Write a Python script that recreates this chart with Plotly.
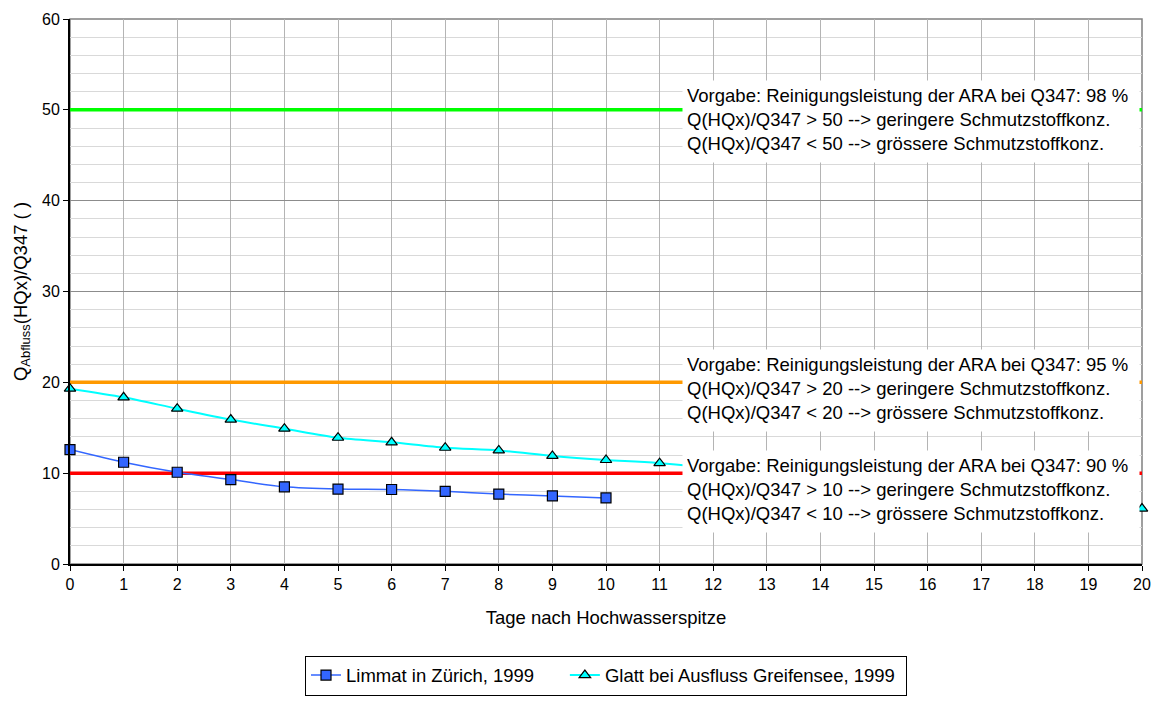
import plotly.graph_objects as go

# ---- data ----
limmat_days = [0, 1, 2, 3, 4, 5, 6, 7, 8, 9, 10]
limmat_vals = [12.6, 11.2, 10.1, 9.3, 8.5, 8.25, 8.2, 8.0, 7.7, 7.5, 7.27]

glatt_days = [0, 1, 2, 3, 4, 5, 6, 7, 8, 9, 10, 11, 20]
glatt_vals = [19.3, 18.35, 17.1, 15.9, 14.9, 13.9, 13.4, 12.8, 12.5, 11.9, 11.45, 11.1, 6.1]

series_names = ["Limmat in Zürich, 1999", "Glatt bei Ausfluss Greifensee, 1999"]

threshold_levels = [50, 20, 10]
threshold_pct = [98, 95, 90]
threshold_colors = ["#00FF00", "#FF9900", "#FF0000"]
threshold_x = [0, 20]
box_tops = [53.3, 23.7, 12.6]

x_ticks = list(range(0, 21))
y_ticks = [0, 10, 20, 30, 40, 50, 60]

FONT = "Liberation Sans, Arial, sans-serif"
NBSP = "\u00a0"

fig = go.Figure()

for lvl, col in zip(threshold_levels, threshold_colors):
    fig.add_trace(go.Scatter(
        x=threshold_x, y=[lvl, lvl], mode="lines",
        line=dict(color=col, width=3.5), showlegend=False, hoverinfo="skip"))

fig.add_trace(go.Scatter(
    x=limmat_days, y=limmat_vals, mode="lines+markers",
    name=series_names[0] + NBSP * 5,
    line=dict(color="#3366FF", width=1.5, shape="spline", smoothing=0.8),
    marker=dict(symbol="square", size=10, color="#3366FF",
                line=dict(color="black", width=1.2)),
    cliponaxis=False))

fig.add_trace(go.Scatter(
    x=glatt_days, y=glatt_vals, mode="lines+markers",
    name=series_names[1] + NBSP,
    line=dict(color="#00FFFF", width=2, shape="spline", smoothing=0.8),
    marker=dict(symbol="triangle-up", size=10, color="#00FFFF",
                line=dict(color="black", width=1.2)),
    cliponaxis=False))

for lvl, pct, top in zip(threshold_levels, threshold_pct, box_tops):
    txt = (f"Vorgabe: Reinigungsleistung der ARA bei Q347: {pct} %<br>"
           f"Q(HQx)/Q347 &gt; {lvl} --&gt; geringere Schmutzstoffkonz.<br>"
           f"Q(HQx)/Q347 &lt; {lvl} --&gt; grössere Schmutzstoffkonz.")
    fig.add_annotation(
        x=11.42, y=top, xref="x", yref="y", xanchor="left", yanchor="top",
        text=txt, showarrow=False, align="left", valign="top",
        width=448, height=73, borderpad=4, bgcolor="white",
        font=dict(family=FONT, size=18.5, color="black"))

# plot border (grey) between grid and traces
fig.add_shape(type="rect", xref="paper", yref="paper", x0=0, y0=0, x1=1, y1=1,
              line=dict(color="#808080", width=1.5), layer="between")

fig.update_layout(
    width=1152, height=714,
    margin=dict(l=70, r=10, t=19, b=150),
    paper_bgcolor="white", plot_bgcolor="white",
    font=dict(family=FONT, size=16, color="black"),
    showlegend=True,
    legend=dict(orientation="h", x=0.5, xanchor="center", y=-0.168, yanchor="top",
                bordercolor="black", borderwidth=1, bgcolor="white",
                font=dict(family=FONT, size=18.5, color="black"),
                itemwidth=30),
)

fig.update_xaxes(
    range=[0, 20], tickmode="array", tickvals=x_ticks,
    ticktext=[str(t) for t in x_ticks], automargin=False,
    showgrid=True, gridcolor="#b4b4b4", gridwidth=1,
    showline=True, linecolor="black", linewidth=2,
    ticks="outside", ticklen=5, tickcolor="black",
    tickfont=dict(size=16), zeroline=False,
    title=dict(text="Tage nach Hochwasserspitze", font=dict(size=18.5), standoff=19))

fig.update_yaxes(
    range=[0, 60], tickmode="array", tickvals=y_ticks, automargin=False,
    showgrid=True, gridcolor="#8c8c8c", gridwidth=1,
    minor=dict(dtick=2, showgrid=True, gridcolor="#d9d9d9", gridwidth=1),
    showline=True, linecolor="black", linewidth=2,
    ticks="outside", ticklen=5, tickcolor="black",
    tickfont=dict(size=16), zeroline=False,
    title=dict(text="Q<sub>Abfluss</sub>(HQx)/Q347 ( )", font=dict(size=18.5), standoff=10))

fig.write_html(
    "out.html",
    config={"displayModeBar": False},
    post_script="document.body.style.margin='0';document.body.style.overflow='hidden';",
)
